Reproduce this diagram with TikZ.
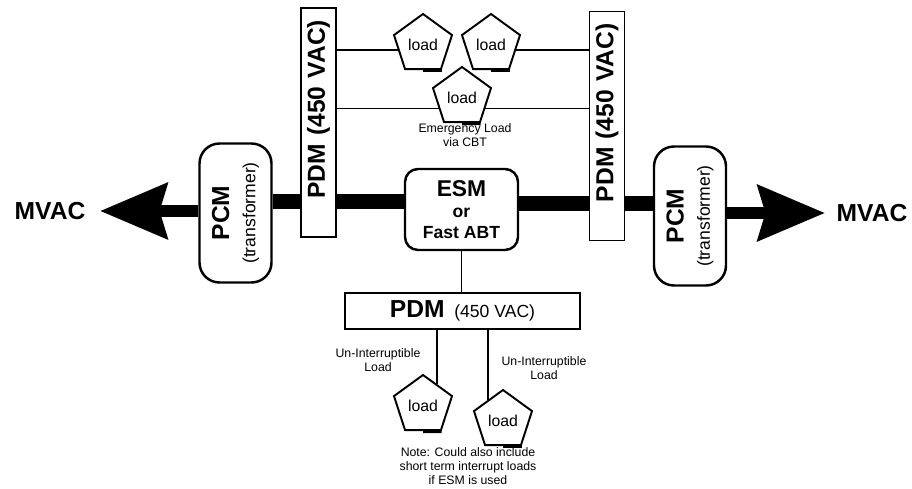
\documentclass[tikz,border=0pt]{standalone}
\usepackage{fontspec}
\setmainfont{Liberation Sans}
\usetikzlibrary{shapes.geometric,arrows.meta,calc}
\begin{document}
\begin{tikzpicture}[x=0.2mm,y=-0.2mm,
  pdmbox/.style={draw,line width=1.1pt,rotate=90,minimum width=45.6mm,minimum height=7mm,
    text width=41mm,align=right,inner xsep=2.4mm,font=\fontsize{14}{16}\selectfont\bfseries},
  pcmbox/.style={draw,line width=1.4pt,rounded corners=4mm,rotate=90,minimum width=27.8mm,
    minimum height=14.4mm,align=center,font=\fontsize{14}{15}\selectfont\bfseries},
  load/.style={draw,line width=1.1pt,regular polygon,regular polygon sides=5,minimum size=12.2mm,
    inner sep=0pt,font=\fontsize{9}{10}\selectfont},
  note/.style={align=center,inner sep=0pt,font=\fontsize{7}{8}\selectfont},
  bus/.style={line width=3mm},
  shaft/.style={line width=2.4mm,-{Stealth[length=13.4mm,width=11mm,inset=1.5mm]}},
  wire/.style={line width=0.9pt}]
\useasboundingbox (0,0) rectangle (912,489);
\node[pdmbox] (pdmL) at (318.5,122.5) {PDM (450 VAC)};
\node[pdmbox] (pdmR) at (607,126) {PDM (450 VAC)};
\node[pcmbox] (pcmL) at (235.5,213) {PCM\\{\fontsize{10}{11}\selectfont\mdseries (transformer)}};
\node[pcmbox] (pcmR) at (690,216) {PCM\\{\fontsize{10}{11}\selectfont\mdseries (transformer)}};
\node[draw,line width=1.4pt,rounded corners=2.6mm,minimum width=22.6mm,minimum height=16.2mm,
  align=center,font=\fontsize{10}{12}\selectfont\bfseries] (esm) at (461.5,209.5)
  {{\fontsize{13}{14}\selectfont ESM}\\or\\Fast ABT};
\node[draw,line width=1.2pt,minimum width=47mm,minimum height=7.2mm] (pdmB) at (462.5,311)
  {{\fontsize{14}{16}\selectfont\bfseries PDM}\ \ {\fontsize{10}{12}\selectfont(450 VAC)}};
\node[load] (ld1) at (423,44.5) {load};
\node[load] (ld2) at (491,44.5) {load};
\node[load] (ld3) at (462,97.5) {load};
\node[load] (ld4) at (423,405.5) {load};
\node[load] (ld5) at (503,420.5) {load};
\foreach \n in {ld1,ld2,ld3,ld4,ld5}
  \draw[line width=2.2pt] ($(\n.corner 3)!0.5!(\n.corner 4)$) -- (\n.corner 4);
\node[font=\fontsize{14}{16}\selectfont\bfseries] (mvacL) at (50,211) {MVAC};
\node[font=\fontsize{14}{16}\selectfont\bfseries] (mvacR) at (872,213) {MVAC};
\node[note] (emg) at (465,135) {Emergency Load\\via CBT};
\node[note] (unL) at (378,360) {Un-Interruptible\\Load};
\node[note] (unR) at (544,368) {Un-Interruptible\\Load};
\node[note] (nte) at (468,466) {Note: Could also include\\short term interrupt loads\\if ESM is used};
\coordinate (busL) at (0,202);
\coordinate (busR) at (0,204);
\coordinate (tipL) at (100,211);
\coordinate (tipR) at (825,213);
\draw[bus] (pcmL.south |- busL) -- (pdmL.north |- busL);
\draw[bus] (pdmL.south |- busL) -- (esm.west |- busL);
\draw[bus] (esm.east |- busR) -- (pdmR.north |- busR);
\draw[bus] (pdmR.south |- busR) -- (pcmR.north |- busR);
\draw[shaft] (pcmL.north |- tipL) -- (tipL);
\draw[shaft] (pcmR.south |- tipR) -- (tipR);
\draw[wire] (pdmL.south |- ld1.192) -- (ld1.192);
\draw[wire] (ld2.348) -- (pdmR.north |- ld2.348);
\draw[wire] (pdmL.south |- ld3.205) -- (ld3.205);
\draw[wire] (ld3.335) -- (pdmR.north |- ld3.335);
\draw[line width=0.6pt] (esm.south) -- (esm.south |- pdmB.north);
\draw[line width=1.2pt] (ld4.58 |- pdmB.south) -- (ld4.58);
\draw[line width=1.2pt] (ld5.127 |- pdmB.south) -- (ld5.127);
\end{tikzpicture}
\end{document}
